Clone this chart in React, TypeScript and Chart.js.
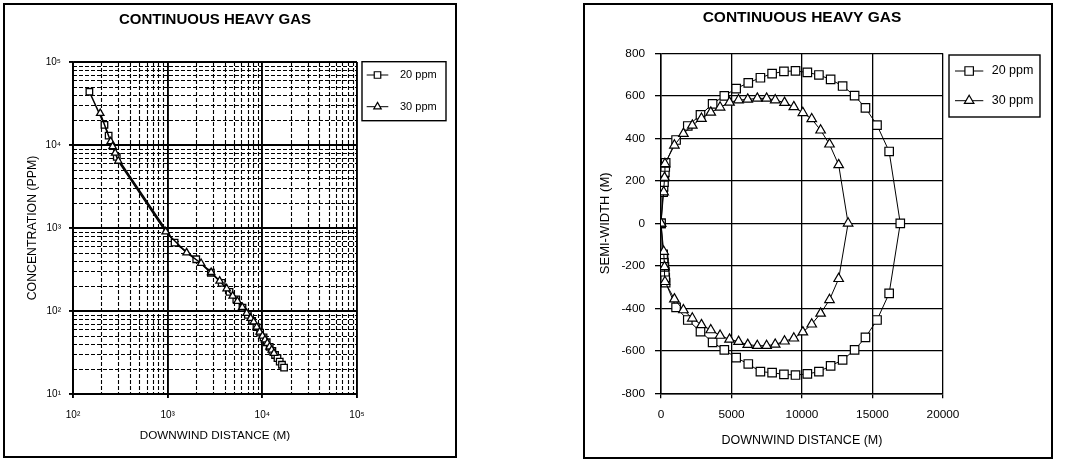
import React, { useEffect, useRef } from "react";
import { Chart, registerables } from "chart.js";

Chart.register(...registerables);

const FONT = '"Liberation Sans", Arial, Helvetica, sans-serif';

const chartTitle = "CONTINUOUS HEAVY GAS";
const seriesNames = ["20 ppm", "30 ppm"];
const distanceTitle = "DOWNWIND DISTANCE (M)";
const concTitle = "CONCENTRATION (PPM)";
const widthTitle = "SEMI-WIDTH (M)";

// ---- Left chart: centreline concentration vs downwind distance (log-log) ----
const concDist20 = [149, 215, 238, 290, 1183, 2004, 2860, 3720, 4500, 5310, 6170, 7030, 7810, 8670, 9480, 10300, 11120, 11960, 12770, 13630, 14450, 15270, 16130, 16970];
const conc20 = [43800, 17500, 13000, 7200, 665, 420, 289, 218, 170, 138, 110, 90, 76, 64, 55, 48, 42, 37, 33, 29.5, 27, 24.5, 22.5, 20.8];

const concDist30 = [194, 250, 262, 279, 301, 953, 1585, 2255, 2880, 3540, 4200, 4860, 5460, 6140, 6820, 7530, 8100, 8720, 9370, 10040, 10660, 11290, 11920, 12570, 13270];
const conc30 = [24100, 11000, 9600, 8000, 6400, 902, 504, 376, 292, 230, 186, 152, 131, 111, 94, 82, 74, 64, 56, 50, 45, 41, 37, 34, 31];

const logXTicks = [100, 1000, 10000, 100000];
const logXLabels = ["10²", "10³", "10⁴", "10⁵"];
const logYTicks = [10, 100, 1000, 10000, 100000];
const logYLabels = ["10¹", "10²", "10³", "10⁴", "10⁵"];
const logMultipliers = [1, 2, 3, 4, 5, 6, 7, 8, 9];

// ---- Right chart: semi-width contour vs downwind distance ----
const widthDist20 = [
  0, 150, 180, 210, 240, 270, 300, 330,
  1070, 1900, 2800, 3660, 4490, 5330, 6190, 7050, 7880, 8720, 9540, 10380, 11200, 12030, 12880, 13730, 14500, 15320, 16180, 16970,
  16180, 15320, 14500, 13730, 12880, 12030, 11200, 10380, 9540, 8720, 7880, 7050, 6190, 5330, 4490, 3660, 2800, 1900, 1070,
  330, 300, 270, 240, 210, 180, 150, 0,
];
const semiWidth20 = [
  0, 147, 171, 194, 218, 241, 265, 284,
  392, 458, 510, 562, 600, 634, 661, 685, 704, 715, 717, 710, 698, 677, 646, 601, 543, 462, 338, 0,
  -330, -455, -537, -596, -643, -671, -698, -709, -714, -711, -703, -698, -662, -632, -596, -560, -510, -455, -396,
  -279, -256, -228, -205, -185, -165, -146, 0,
];

const widthDist30 = [
  0, 190, 250, 280,
  950, 1590, 2220, 2870, 3530, 4190, 4860, 5500, 6150, 6830, 7490, 8100, 8760, 9420, 10060, 10690, 11320, 11950, 12600, 13270,
  12600, 11950, 11320, 10690, 10060, 9420, 8760, 8100, 7490, 6830, 6150, 5500, 4860, 4190, 3530, 2870, 2220, 1590, 950,
  280, 250, 190, 0,
];
const semiWidth30 = [
  0, 147, 215, 280,
  367, 422, 461, 493, 522, 546, 569, 580, 583, 588, 588, 580, 568, 548, 520, 491, 438, 372, 275, 0,
  -261, -360, -424, -475, -512, -541, -555, -570, -576, -576, -571, -557, -546, -528, -502, -478, -447, -408, -357,
  -275, -205, -133, 0,
];

const distTicks = [0, 5000, 10000, 15000, 20000];
const semiTicks = [-800, -600, -400, -200, 0, 200, 400, 600, 800];

// ---------------------------------------------------------------------------

function pts(xs: number[], ys: number[]) {
  return xs.map((x, i) => ({ x, y: ys[i] }));
}

function logTickValues(min: number, max: number) {
  const out: number[] = [];
  for (let d = min; d < max; d *= 10) for (const m of logMultipliers) out.push(m * d);
  out.push(max);
  return out;
}

function drawMarker(ctx: CanvasRenderingContext2D, style: string, x: number, y: number, r: number) {
  ctx.beginPath();
  if (style === "rect") {
    const s = Math.SQRT1_2 * r;
    ctx.rect(x - s, y - s, 2 * s, 2 * s);
  } else {
    let rad = 0;
    ctx.moveTo(x + Math.sin(rad) * r, y - Math.cos(rad) * r);
    rad += (2 * Math.PI) / 3;
    ctx.lineTo(x + Math.sin(rad) * r, y - Math.cos(rad) * r);
    rad += (2 * Math.PI) / 3;
    ctx.lineTo(x + Math.sin(rad) * r, y - Math.cos(rad) * r);
    ctx.closePath();
  }
  ctx.fillStyle = "#fff";
  ctx.fill();
  ctx.stroke();
}

function titlePlugin(y: number, size: number) {
  return {
    id: "boxTitle",
    afterDraw(chart: any) {
      const { ctx, chartArea } = chart;
      ctx.save();
      ctx.font = `bold ${size}px ${FONT}`;
      ctx.fillStyle = "#000";
      ctx.textAlign = "center";
      ctx.textBaseline = "middle";
      ctx.fillText(chartTitle, (chartArea.left + chartArea.right) / 2, y);
      ctx.restore();
    },
  };
}

function legendPlugin(cfg: {
  x: number; y: number; w: number; h: number; rows: number[];
  lx0: number; lx1: number; tx: number; size: number;
}) {
  return {
    id: "boxLegend",
    afterDraw(chart: any) {
      const ctx: CanvasRenderingContext2D = chart.ctx;
      ctx.save();
      ctx.strokeStyle = "#000";
      ctx.lineWidth = 1.4;
      ctx.strokeRect(cfg.x, cfg.y, cfg.w, cfg.h);
      const sets = chart.data.datasets;
      seriesNames.forEach((name, i) => {
        const ds = sets.find((d: any) => d.label === name);
        const y = cfg.rows[i];
        ctx.lineWidth = 1;
        ctx.setLineDash([]);
        ctx.beginPath();
        ctx.moveTo(cfg.lx0, y);
        ctx.lineTo(cfg.lx1, y);
        ctx.stroke();
        ctx.lineWidth = 1.2;
        drawMarker(ctx, ds.pointStyle, (cfg.lx0 + cfg.lx1) / 2, y, ds.pointRadius);
        ctx.fillStyle = "#000";
        ctx.font = `${cfg.size}px ${FONT}`;
        ctx.textAlign = "left";
        ctx.textBaseline = "middle";
        ctx.fillText(name, cfg.tx, y);
      });
      ctx.restore();
    },
  };
}

const logMinorGridPlugin = {
  id: "logMinorGrid",
  beforeDatasetsDraw(chart: any) {
    const { ctx, chartArea: a, scales } = chart;
    ctx.save();
    ctx.strokeStyle = "#000";
    ctx.lineWidth = 1.1;
    ctx.setLineDash([4, 2]);
    for (const v of logTickValues(100, 100000)) {
      if (logXTicks.includes(v)) continue;
      const px = Math.round(scales.x.getPixelForValue(v)) + 0.5;
      ctx.beginPath();
      ctx.moveTo(px, a.top);
      ctx.lineTo(px, a.bottom);
      ctx.stroke();
    }
    for (const v of logTickValues(10, 100000)) {
      if (logYTicks.includes(v)) continue;
      const py = Math.round(scales.y.getPixelForValue(v)) + 0.5;
      ctx.beginPath();
      ctx.moveTo(a.left, py);
      ctx.lineTo(a.right, py);
      ctx.stroke();
    }
    ctx.restore();
  },
};

function leftConfig(): any {
  const xMajor = (c: any) => (!c.tick || logXTicks.includes(c.tick.value) ? "#000" : "rgba(0,0,0,0)");
  const yMajor = (c: any) => (!c.tick || logYTicks.includes(c.tick.value) ? "#000" : "rgba(0,0,0,0)");
  return {
    type: "line",
    data: {
      datasets: [
        {
          label: seriesNames[0],
          data: pts(concDist20, conc20),
          borderColor: "#000",
          borderWidth: 1.5,
          pointStyle: "rect",
          pointRadius: 4.6,
          pointBorderWidth: 1.3,
          pointBackgroundColor: "#fff",
          pointBorderColor: "#000",
          tension: 0,
          order: 2,
        },
        {
          label: seriesNames[1],
          data: pts(concDist30, conc30),
          borderColor: "#000",
          borderWidth: 1.5,
          pointStyle: "triangle",
          pointRadius: 4.3,
          pointBorderWidth: 1.3,
          pointBackgroundColor: "#fff",
          pointBorderColor: "#000",
          tension: 0,
          order: 1,
        },
      ],
    },
    options: {
      responsive: false,
      animation: false,
      events: [],
      layout: { padding: { left: 20, top: 57, right: 98, bottom: 12.8 } },
      plugins: { legend: { display: false }, title: { display: false }, tooltip: { enabled: false } },
      scales: {
        x: {
          type: "logarithmic",
          min: 100,
          max: 100000,
          afterBuildTicks: (s: any) => {
            s.ticks = logTickValues(100, 100000).map((v) => ({ value: v }));
          },
          afterFit: (s: any) => {
            s.height = 49.2;
          },
          ticks: {
            autoSkip: false,
            maxRotation: 0,
            padding: 11,
            color: "#000",
            font: { family: FONT, size: 10 },
            callback: (v: number) => {
              const i = logXTicks.indexOf(v);
              return i >= 0 ? logXLabels[i] : "";
            },
          },
          grid: { color: xMajor, tickColor: xMajor, lineWidth: 1.9, tickLength: 4 },
          border: { color: "#000", width: 1.9 },
          title: {
            display: true,
            text: distanceTitle,
            color: "#000",
            font: { family: FONT, size: 11.7 },
            padding: { top: 0, bottom: 0 },
          },
        },
        y: {
          type: "logarithmic",
          min: 10,
          max: 100000,
          afterBuildTicks: (s: any) => {
            s.ticks = logTickValues(10, 100000).map((v) => ({ value: v }));
          },
          afterFit: (s: any) => {
            s.width = 48;
          },
          ticks: {
            autoSkip: false,
            padding: 8,
            color: "#000",
            font: { family: FONT, size: 10 },
            callback: (v: number) => {
              const i = logYTicks.indexOf(v);
              return i >= 0 ? logYLabels[i] : "";
            },
          },
          grid: { color: yMajor, tickColor: yMajor, lineWidth: 1.9, tickLength: 4 },
          border: { color: "#000", width: 1.9 },
          title: {
            display: true,
            text: concTitle,
            color: "#000",
            font: { family: FONT, size: 12.3 },
            padding: { top: 0.5, bottom: 0 },
          },
        },
      },
    },
    plugins: [
      logMinorGridPlugin,
      titlePlugin(15, 15),
      legendPlugin({ x: 357, y: 56.7, w: 84, h: 59, rows: [70, 101.7], lx0: 361.7, lx1: 383.3, tx: 395, size: 11 }),
    ],
  };
}

function rightConfig(): any {
  return {
    type: "line",
    data: {
      datasets: [
        {
          label: seriesNames[0],
          data: pts(widthDist20, semiWidth20),
          borderColor: "#000",
          borderWidth: 1,
          pointStyle: "rect",
          pointRadius: 6,
          pointBorderWidth: 1.2,
          pointBackgroundColor: "#fff",
          pointBorderColor: "#000",
          tension: 0,
          order: 2,
        },
        {
          label: seriesNames[1],
          data: pts(widthDist30, semiWidth30),
          borderColor: "#000",
          borderWidth: 1,
          pointStyle: "triangle",
          pointRadius: 5.5,
          pointBorderWidth: 1.2,
          pointBackgroundColor: "#fff",
          pointBorderColor: "#000",
          tension: 0,
          order: 1,
        },
      ],
    },
    options: {
      responsive: false,
      animation: false,
      events: [],
      layout: { padding: { left: 12, top: 48.3, right: 108, bottom: 8.5 } },
      plugins: { legend: { display: false }, title: { display: false }, tooltip: { enabled: false } },
      scales: {
        x: {
          type: "linear",
          min: 0,
          max: 20000,
          afterBuildTicks: (s: any) => {
            s.ticks = distTicks.map((v) => ({ value: v }));
          },
          afterFit: (s: any) => {
            s.height = 55.2;
          },
          ticks: {
            autoSkip: false,
            maxRotation: 0,
            padding: 9.5,
            color: "#000",
            font: { family: FONT, size: 11.8 },
            callback: (v: number) => String(v),
          },
          grid: { color: "#000", tickColor: "#000", lineWidth: 1.3, tickLength: 5 },
          border: { color: "#000", width: 1.5 },
          title: {
            display: true,
            text: distanceTitle,
            color: "#000",
            font: { family: FONT, size: 12.5 },
            padding: { top: 0, bottom: 0 },
          },
        },
        y: {
          type: "linear",
          min: -800,
          max: 800,
          afterBuildTicks: (s: any) => {
            s.ticks = semiTicks.map((v) => ({ value: v }));
          },
          afterFit: (s: any) => {
            s.width = 64;
          },
          ticks: {
            autoSkip: false,
            padding: 10,
            color: "#000",
            font: { family: FONT, size: 11.8 },
            callback: (v: number) => String(v),
          },
          grid: { color: "#000", tickColor: "#000", lineWidth: 1.3, tickLength: 6 },
          border: { color: "#000", width: 1.5 },
          title: {
            display: true,
            text: widthTitle,
            color: "#000",
            font: { family: FONT, size: 13 },
            padding: { top: 0.2, bottom: 0 },
          },
        },
      },
    },
    plugins: [
      titlePlugin(12.5, 15.5),
      legendPlugin({ x: 364, y: 50, w: 91, h: 62, rows: [66, 95.7], lx0: 370, lx1: 398.3, tx: 406.7, size: 12.5 }),
    ],
  };
}

function ChartBox(props: { left: number; top: number; width: number; height: number; makeConfig: () => any }) {
  const { left, top, width, height, makeConfig } = props;
  const ref = useRef<HTMLCanvasElement>(null);
  useEffect(() => {
    const chart = new Chart(ref.current as HTMLCanvasElement, makeConfig());
    return () => chart.destroy();
  }, []);
  return (
    <div
      style={{
        position: "absolute",
        left,
        top,
        width,
        height,
        border: "2px solid #000",
        background: "#fff",
      }}
    >
      <canvas ref={ref} width={width} height={height} style={{ display: "block", width, height }} />
    </div>
  );
}

export default function App() {
  return (
    <div
      style={{
        position: "absolute",
        left: 0,
        top: 0,
        width: 1070,
        height: 462,
        background: "#fff",
        overflow: "hidden",
      }}
    >
      <ChartBox left={3} top={3} width={450} height={451} makeConfig={leftConfig} />
      <ChartBox left={583} top={3} width={466} height={452} makeConfig={rightConfig} />
    </div>
  );
}
